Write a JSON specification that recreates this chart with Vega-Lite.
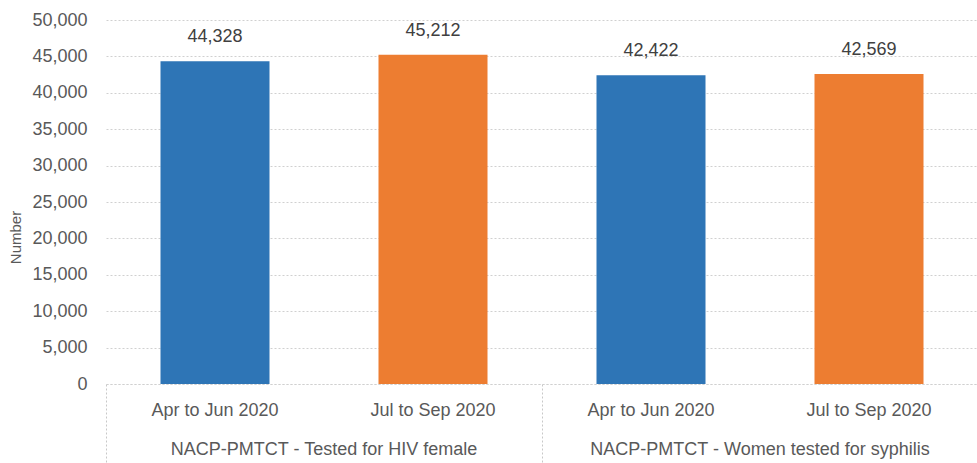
{
  "$schema": "https://vega.github.io/schema/vega-lite/v6.json",
  "padding": {"left": 8, "top": 11, "right": 0, "bottom": 0},
  "background": "white",
  "data": {"values": [
    {"group": "NACP-PMTCT - Tested for HIV female", "period": "Apr to Jun 2020", "value": 44328},
    {"group": "NACP-PMTCT - Tested for HIV female", "period": "Jul to Sep 2020", "value": 45212},
    {"group": "NACP-PMTCT - Women tested for syphilis", "period": "Apr to Jun 2020", "value": 42422},
    {"group": "NACP-PMTCT - Women tested for syphilis", "period": "Jul to Sep 2020", "value": 42569}
  ]},
  "facet": {
    "column": {
      "field": "group", "type": "nominal",
      "sort": ["NACP-PMTCT - Tested for HIV female", "NACP-PMTCT - Women tested for syphilis"],
      "header": {"title": null, "labelOrient": "bottom", "labelFont": "Liberation Sans", "labelFontSize": 18, "labelColor": "#595959", "labelPadding": -24}
    }
  },
  "spacing": 0,
  "spec": {
    "width": 436,
    "height": 364,
    "encoding": {
      "x": {
        "field": "period", "type": "nominal",
        "sort": ["Apr to Jun 2020", "Jul to Sep 2020"],
        "scale": {"paddingInner": 0, "paddingOuter": 0},
        "axis": {
          "title": null, "labelAngle": 0, "grid": false,
          "domain": true, "domainColor": "#d9d9d9", "domainDash": [2, 2],
          "ticks": true, "bandPosition": 0, "tickSize": 80, "tickDash": [2, 2],
          "tickColor": {"condition": {"test": "datum.value === 'Apr to Jun 2020'", "value": "#c8c8c8"}, "value": "transparent"},
          "labelPadding": -63, "labelFont": "Liberation Sans", "labelFontSize": 18, "labelColor": "#595959"
        }
      },
      "y": {
        "field": "value", "type": "quantitative",
        "scale": {"domain": [0, 50000]},
        "axis": {
          "title": "Number", "titleFont": "Liberation Sans", "titleFontSize": 15, "titleFontWeight": "normal", "titleColor": "#595959", "titlePadding": 8, "titleY": 217,
          "values": [0, 5000, 10000, 15000, 20000, 25000, 30000, 35000, 40000, 45000, 50000],
          "format": ",.0f", "domain": false, "ticks": false, "labelPadding": 19,
          "labelFont": "Liberation Sans", "labelFontSize": 18, "labelColor": "#595959",
          "grid": true, "gridColor": "#d0d0d0", "gridDash": [2, 2]
        }
      }
    },
    "layer": [
      {
        "mark": {"type": "bar", "width": {"band": 0.5}},
        "encoding": {
          "color": {"field": "period", "type": "nominal", "scale": {"domain": ["Apr to Jun 2020", "Jul to Sep 2020"], "range": ["#2E75B6", "#ED7D31"]}, "legend": null}
        }
      },
      {
        "mark": {"type": "text", "dy": -24, "font": "Liberation Sans", "fontSize": 18, "color": "#404040"},
        "encoding": {"text": {"field": "value", "type": "quantitative", "format": ","}}
      }
    ]
  },
  "config": {"view": {"stroke": null}}
}
